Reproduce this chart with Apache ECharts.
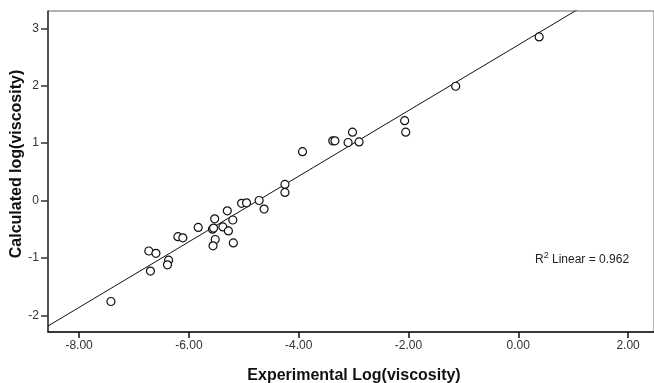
<!DOCTYPE html>
<html>
<head>
<meta charset="utf-8">
<script src="https://cdn.jsdelivr.net/npm/echarts@6/dist/echarts.min.js"></script>
<style>
  html, body { margin: 0; padding: 0; background: #fff; }
  #chart { width: 654px; height: 383px; }
</style>
</head>
<body>
<div id="chart"></div>
<script>
// experimental vs calculated log(viscosity)
const experimental = [
  -7.42, -6.73, -6.60, -6.70, -6.37, -6.39, -6.20, -6.11, -5.83, -5.53,
  -5.57, -5.55, -5.52, -5.56, -5.30, -5.20, -5.38, -5.28, -5.19, -5.04,
  -4.95, -4.72, -4.63, -4.25, -4.25, -3.93, -3.38, -3.34, -3.02, -3.10,
  -2.90, -2.07, -2.05, -1.14, 0.38
];
const calculated = [
  -1.76, -0.88, -0.92, -1.23, -1.04, -1.12, -0.63, -0.65, -0.47, -0.32,
  -0.50, -0.48, -0.68, -0.79, -0.18, -0.34, -0.46, -0.53, -0.74, -0.05,
  -0.04, 0.00, -0.15, 0.28, 0.14, 0.85, 1.04, 1.04, 1.19, 1.01,
  1.02, 1.39, 1.19, 1.99, 2.85
];
const xTicks = [-8, -6, -4, -2, 0, 2];
const yTicks = [-2, -1, 0, 1, 2, 3];
const fitSlope = 0.5715;
const fitIntercept = 2.709;
const rSquared = '0.962';

const xMin = -8.566, xMax = 2.472;
const yMin = -2.291, yMax = 3.301;

const points = experimental.map((x, i) => [x, calculated[i]]);
const fitLine = [xMin, xMax].map(x => [x, fitIntercept + fitSlope * x]);

const font = '"Liberation Sans", Arial, sans-serif';

const chart = echarts.init(document.getElementById('chart'));
chart.setOption({
  animation: false,
  grid: {
    left: 48, top: 11, right: 0, bottom: 51,
    outerBoundsMode: 'none',
    show: true, borderColor: '#666', borderWidth: 1
  },
  xAxis: {
    type: 'value',
    min: xMin, max: xMax,
    name: 'Experimental Log(viscosity)',
    nameLocation: 'middle',
    nameGap: 36,
    nameTextStyle: { fontFamily: font, fontWeight: 'bold', fontSize: 16, color: '#111', padding: [0, 0, 0, 6] },
    splitLine: { show: false },
    axisLine: { onZero: false, lineStyle: { color: '#111', width: 1.5 } },
    axisTick: { customValues: xTicks, length: 6, lineStyle: { color: '#111', width: 1.5 } },
    axisLabel: {
      customValues: xTicks,
      formatter: v => v.toFixed(2),
      fontFamily: font, fontSize: 12, color: '#333', margin: 8
    }
  },
  yAxis: {
    type: 'value',
    min: yMin, max: yMax,
    splitLine: { show: false },
    axisLine: { onZero: false, lineStyle: { color: '#333', width: 1.5 } },
    axisTick: { customValues: yTicks, length: 7, lineStyle: { color: '#333', width: 1.5 } },
    axisLabel: {
      customValues: yTicks,
      formatter: v => String(v),
      fontFamily: font, fontSize: 12, color: '#333', margin: 9
    }
  },
  graphic: [
    {
      // y axis title, sits a little above the plot's middle as in the original
      type: 'text',
      x: 17, y: 164,
      rotation: Math.PI / 2,
      style: {
        text: 'Calculated log(viscosity)',
        fontFamily: font, fontWeight: 'bold', fontSize: 16, fill: '#111',
        align: 'center', verticalAlign: 'middle'
      }
    },
    {
      type: 'text',
      left: 535, top: 251,
      style: {
        text: '{n|R}{s|2}{n| Linear = ' + rSquared + '}',
        rich: {
          n: { fontFamily: font, fontSize: 12, fill: '#222', verticalAlign: 'bottom', lineHeight: 15 },
          s: { fontFamily: font, fontSize: 9, fill: '#222', verticalAlign: 'top', lineHeight: 15 }
        }
      }
    }
  ],
  series: [
    {
      type: 'line',
      data: fitLine,
      showSymbol: false,
      clip: true,
      lineStyle: { color: '#111', width: 1 },
      z: 1
    },
    {
      type: 'scatter',
      data: points,
      symbol: 'circle',
      symbolSize: 8,
      itemStyle: { color: '#fff', borderColor: '#111', borderWidth: 1.2, opacity: 1 },
      z: 2
    }
  ]
});
</script>
</body>
</html>
